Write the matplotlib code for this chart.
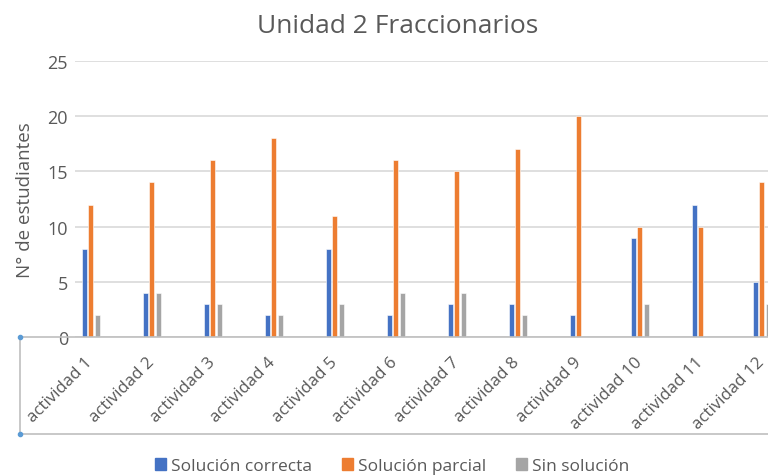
import matplotlib.pyplot as plt
import numpy as np
from matplotlib.lines import Line2D

actividades = [f"actividad {i}" for i in range(1, 13)]
correcta = [8, 4, 3, 2, 8, 2, 3, 3, 2, 9, 12, 5]
parcial = [12, 14, 16, 18, 11, 16, 15, 17, 20, 10, 10, 14]
sin_sol = [2, 4, 3, 2, 3, 4, 4, 2, 0, 3, 0, 3]
series = ["Solución correcta", "Solución parcial", "Sin solución"]
colores = ["#4472C4", "#ED7D31", "#A5A5A5"]

plt.rcParams["font.family"] = ["Open Sans", "DejaVu Sans"]
txt = "#595959"

fig = plt.figure(figsize=(7.68, 4.77), dpi=100)
W, H = 768, 477
ax = fig.add_axes([75 / W, 1 - 338 / H, 1 - 75 / W, (338 - 62) / H])

x = np.arange(len(actividades))
slot = 61.0
off = 6.5 / slot
bw = 5 / slot
for k, (vals, col, name) in enumerate(zip([correcta, parcial, sin_sol], colores, series)):
    ax.bar(x + (k - 1) * off, vals, width=bw, color=col, label=name,
           edgecolor="white", linewidth=0.4, zorder=3)

ax.set_xlim(-15.5 / slot, (768 - 90.5) / slot)
ax.set_ylim(0, 25)
ax.set_yticks([0, 5, 10, 15, 20, 25])
ax.yaxis.grid(True, color="#D9D9D9", linewidth=1.2, zorder=0)
for s in ["top", "right", "left", "bottom"]:
    ax.spines[s].set_visible(False)
ax.tick_params(axis="y", length=0, labelsize=13, labelcolor=txt, pad=5)
ax.set_xticks(x)
ax.set_xticklabels(actividades, rotation=45, ha="right", va="center",
                   rotation_mode="anchor", fontsize=12.2, color=txt)
ax.tick_params(axis="x", length=0, pad=16)
ax.set_ylabel("N° de estudiantes", fontsize=13.5, color=txt, labelpad=10)

# axis line and label box (Excel selection frame)
fig.add_artist(Line2D([20 / W, 1], [1 - 338 / H, 1 - 338 / H], color="#BFBFBF", lw=1.2))
fig.add_artist(Line2D([20 / W, 20 / W], [1 - 338 / H, 1 - 435 / H], color="#BFBFBF", lw=1.2))
fig.add_artist(Line2D([20 / W, 1], [1 - 435 / H, 1 - 435 / H], color="#BFBFBF", lw=1.2))
for yy in [338, 435]:
    fig.add_artist(Line2D([20 / W], [1 - yy / H], marker="o", markersize=3,
                          color="#5B9BD5", lw=0))

fig.text(398 / W, 1 - 33 / H, "Unidad 2 Fraccionarios", ha="center", va="baseline",
         fontsize=19, color=txt)

handles = [plt.Rectangle((0, 0), 1, 1, color=c) for c in colores]
fig.legend(handles, series, loc="center", bbox_to_anchor=(392 / W, 1 - 467 / H),
           ncol=3, frameon=False, fontsize=12.5, labelcolor=txt,
           handlelength=0.63, handleheight=0.63, handletextpad=0.3, columnspacing=1.7)

fig.savefig("out.png", dpi=100)
